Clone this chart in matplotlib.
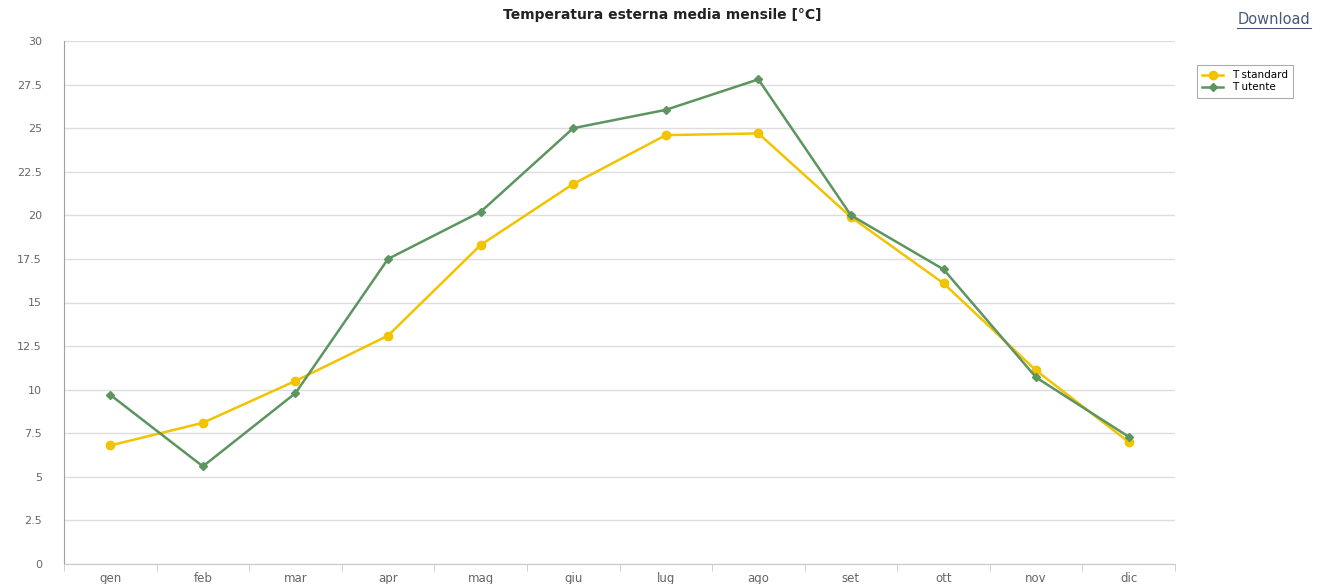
import matplotlib.pyplot as plt
from matplotlib.lines import Line2D
import numpy as np

mesi = ['gen', 'feb', 'mar', 'apr', 'mag', 'giu', 'lug', 'ago', 'set', 'ott', 'nov', 'dic']
t_standard = [6.8, 8.1, 10.5, 13.1, 18.3, 21.8, 24.6, 24.7, 19.9, 16.1, 11.1, 7.0]
t_utente = [9.7, 5.6, 9.8, 17.5, 20.2, 25.0, 26.05, 27.8, 20.0, 16.9, 10.7, 7.3]
y_ticks = [0, 2.5, 5, 7.5, 10, 12.5, 15, 17.5, 20, 22.5, 25, 27.5, 30]

fig = plt.figure(figsize=(13.25, 5.84), dpi=100)
ax = fig.add_axes([64 / 1325, 20 / 584, 1111 / 1325, 523 / 584])

x = np.arange(len(mesi))
ax.plot(x, t_standard, color='#f2c300', lw=1.8, marker='o', ms=6,
        label='T standard', zorder=3)
ax.plot(x, t_utente, color='#5c955f', lw=1.8, marker='D', ms=4,
        label='T utente', zorder=4)

ax.set_xlim(-0.5, len(mesi) - 0.5)
ax.set_ylim(0, 30)
ax.set_yticks(y_ticks)
ax.set_yticklabels([f'{v:g}' for v in y_ticks])
ax.set_xticks(x)
ax.set_xticklabels(mesi)
ax.set_xticks(np.arange(-0.5, len(mesi)), minor=True)

ax.grid(axis='y', color='#dddddd', lw=1)
ax.set_axisbelow(True)
for s in ['top', 'right']:
    ax.spines[s].set_visible(False)
ax.spines['left'].set_color('#a0a0a0')
ax.spines['bottom'].set_color('#c8c8c8')
ax.tick_params(axis='y', length=0, pad=16, labelsize=8, labelcolor='#666666')
ax.tick_params(axis='x', which='major', length=0, pad=6, labelsize=8.5, labelcolor='#666666')
ax.tick_params(axis='x', which='minor', length=5, color='#c8c8c8')

fig.text(0.5, 0.975, 'Temperatura esterna media mensile [°C]', ha='center', va='center',
         fontsize=10, fontweight='bold', color='#222222')
fig.text(1274 / 1325, 1 - 20 / 584, 'Download', ha='center', va='center', fontsize=10.5, color='#4a5878')
fig.lines.append(Line2D([1237 / 1325, 1311 / 1325], [1 - 28 / 584, 1 - 28 / 584],
                        transform=fig.transFigure, color='#4a5878', lw=0.8))

leg = fig.legend(loc='upper left', bbox_to_anchor=(1192 / 1325, 1 - 60 / 584),
                 fontsize=7.5, frameon=True, fancybox=False, borderpad=0.5,
                 handlelength=2, labelspacing=0.2)
leg.get_frame().set_edgecolor('#999999')
leg.get_frame().set_linewidth(0.8)

fig.savefig('out.png', dpi=100)
